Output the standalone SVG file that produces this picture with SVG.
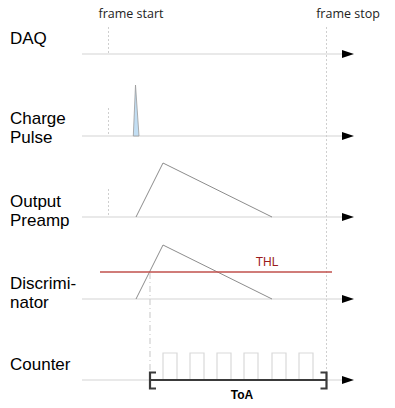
<svg xmlns="http://www.w3.org/2000/svg" width="395" height="408" viewBox="0 0 395 408">
<defs>
<marker id="arr" markerWidth="12" markerHeight="8" refX="0" refY="4" orient="auto" markerUnits="userSpaceOnUse">
<path d="M0,0 L12,4 L0,8 Z" fill="#000"/>
</marker>
<style>
.axis{stroke:#d4d4d4;stroke-width:1.2;fill:none}
.frame{stroke:#cfcfcf;stroke-width:1;stroke-dasharray:2,2;fill:none}
.sig{stroke:#8c8c8c;stroke-width:1;fill:none}
.lbl{font-family:"Liberation Sans",Arial,sans-serif;font-size:17px;fill:#000}
.ftxt{font-family:"Open Sans","Liberation Sans",sans-serif;font-size:12.5px;fill:#222}
.pulse{stroke:#d9d9d9;stroke-width:1.2;fill:none}
.br{stroke:#3a3a3a;stroke-width:2.2;fill:none}
</style>
</defs>
<rect width="395" height="408" fill="#fff"/>
<g id="connectors">
<line class="axis" x1="82" y1="54" x2="342" y2="54" marker-end="url(#arr)"/>
<line class="axis" x1="82" y1="136" x2="342" y2="136" marker-end="url(#arr)"/>
<line class="axis" x1="82" y1="217" x2="342" y2="217" marker-end="url(#arr)"/>
<line class="axis" x1="82" y1="299" x2="342" y2="299" marker-end="url(#arr)"/>
<line class="axis" x1="82" y1="380" x2="342" y2="380" marker-end="url(#arr)"/>
<line class="frame" x1="108.5" y1="27" x2="108.5" y2="54"/>
<line class="frame" x1="108.5" y1="108" x2="108.5" y2="136"/>
<line class="frame" x1="108.5" y1="189" x2="108.5" y2="217"/>
<line class="frame" x1="326.5" y1="27" x2="326.5" y2="380"/>
</g>
<g id="frame-start"><text class="ftxt" x="131" y="18" text-anchor="middle">frame start</text></g>
<g id="frame-stop"><text class="ftxt" x="348" y="18" text-anchor="middle">frame stop</text></g>
<g id="daq"><text class="lbl" x="10" y="44">DAQ</text></g>
<g id="charge-pulse">
<text class="lbl" x="10" y="124">Charge</text>
<text class="lbl" x="10" y="143">Pulse</text>
<path d="M133.3,136 L135.5,85 L139,136 Z" fill="#c2def3" stroke="#9a9a9a" stroke-width="0.8"/>
</g>
<g id="output-preamp">
<text class="lbl" x="10" y="207">Output</text>
<text class="lbl" x="10" y="226">Preamp</text>
<polyline class="sig" points="136,217 163,163 272,217"/>
</g>
<g id="discriminator">
<text class="lbl" x="10" y="289">Discrimi-</text>
<text class="lbl" x="10" y="308">nator</text>
<polyline class="sig" points="136,299 163,245 272,299"/>
<line x1="100" y1="272" x2="332" y2="272" stroke="#c0504d" stroke-width="1.3"/>
<text x="267" y="266" text-anchor="middle" font-family="Liberation Sans, Arial, sans-serif" font-size="12" fill="#9b1c1c">THL</text>
<line x1="150" y1="273" x2="150" y2="379" stroke="#d0d0d0" stroke-width="1.2" stroke-dasharray="6,3,1,3"/>
</g>
<g id="counter">
<text class="lbl" x="10" y="370">Counter</text>
<path class="pulse" d="M163,380 V353 H177 V380 M190,380 V353 H204 V380 M217,380 V353 H231 V380 M244,380 V353 H258 V380 M272,380 V353 H286 V380 M299,380 V353 H313 V380"/>
<line class="br" x1="150" y1="380" x2="326" y2="380"/>
<path class="br" d="M156,372.5 H150 V388.5 H156"/>
<path class="br" d="M320.5,372.5 H326.5 V388.5 H320.5"/>
<text x="242" y="399" text-anchor="middle" font-family="Liberation Sans, Arial, sans-serif" font-size="12" font-weight="bold" fill="#000">ToA</text>
</g>
</svg>
